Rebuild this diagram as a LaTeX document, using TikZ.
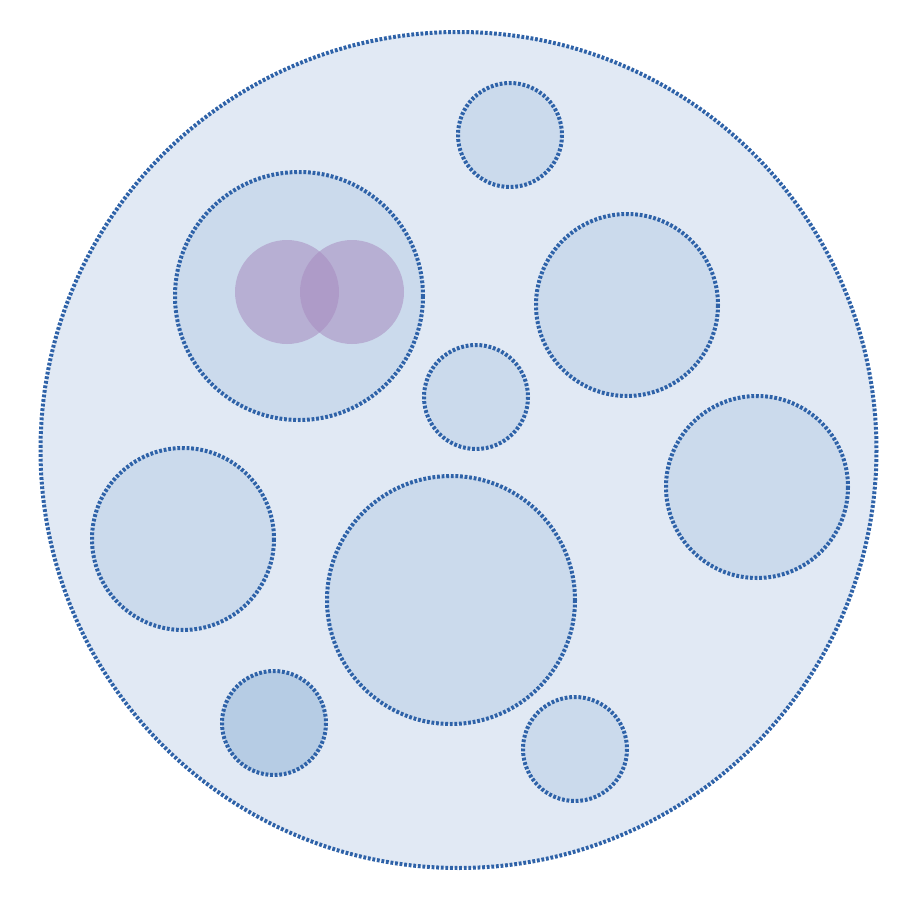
\documentclass[tikz,border=0pt]{standalone}
\usepackage{xcolor}
\usepackage{tikz}
\definecolor{bluex}{HTML}{2E62A8}
\definecolor{outerbg}{HTML}{E1E9F4}
\definecolor{innerbg}{HTML}{CBDAEC}
\definecolor{deepbg}{HTML}{B6CCE4}
\definecolor{lilac}{HTML}{A88CC0}
\tikzset{
  rim/.style={draw=bluex,line width=4pt,dash pattern=on 2.8pt off 1.8pt},
  cell/.style={rim,fill=innerbg},
  blob/.style={fill=lilac,fill opacity=0.55}
}

\begin{document}
\begin{tikzpicture}[x=1pt,y=-1pt]
\useasboundingbox (0,0) rectangle (924,902);
\def\S{52}
\def\M{91}
\def\L{124}
% outer circle
\draw[rim,fill=outerbg] (458.5,450) circle (418);
% inner circles
\draw[cell] (510,135) circle (\S);
\draw[cell] (299,296) circle (\L);
\draw[cell] (627,305) circle (\M);
\draw[cell] (476,397) circle (\S);
\draw[cell] (757,487) circle (\M);
\draw[cell] (183,539) circle (\M);
\draw[cell] (451,600) circle (\L);
\draw[rim,fill=deepbg] (274,723) circle (\S);
\draw[cell] (575,749) circle (\S);
% overlapping pair
\fill[blob] (287,292) circle (\S);
\fill[blob] (352,292) circle (\S);
\end{tikzpicture}
\end{document}
